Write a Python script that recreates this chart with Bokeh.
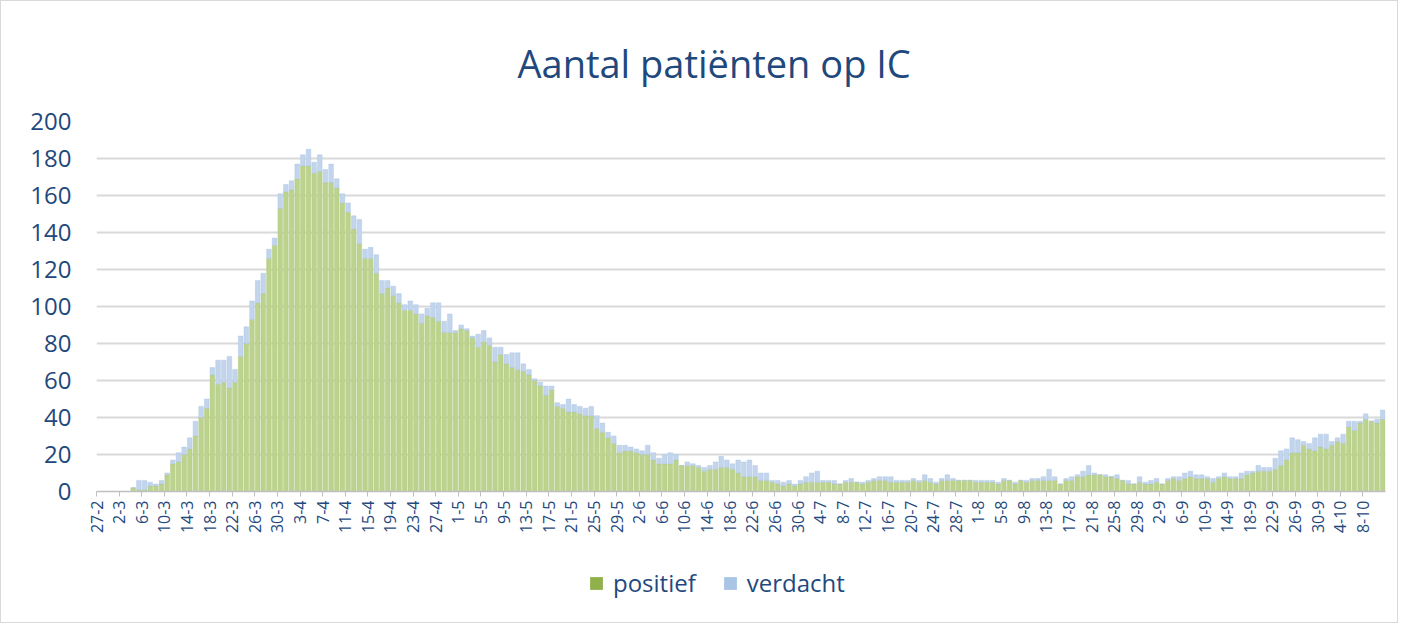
import math
from bokeh.plotting import figure
from bokeh.layouts import column
from bokeh.models import ColumnDataSource, Range1d, FixedTicker, Legend, LegendItem
from bokeh.embed import file_html
from bokeh.resources import INLINE

# Daily ICU occupancy, one value per day starting 27-2
positief = [0, 0, 0, 0, 0, 0, 2, 1, 1, 3, 3, 4, 9, 15, 16, 20, 23, 30, 40, 45,
            63, 58, 59, 56, 59, 73, 80, 93, 102, 107, 126, 133, 153, 162, 163, 169, 176, 176, 172, 173,
            167, 167, 164, 156, 151, 142, 134, 126, 126, 118, 107, 110, 106, 102, 98, 98, 96, 91, 95, 94,
            92, 86, 86, 86, 88, 87, 83, 78, 81, 79, 70, 74, 69, 67, 66, 65, 63, 60, 57, 52,
            55, 46, 45, 43, 43, 42, 41, 41, 34, 32, 29, 26, 21, 22, 22, 21, 20, 20, 17, 15,
            15, 15, 17, 14, 14, 14, 13, 11, 12, 12, 13, 13, 12, 10, 8, 8, 8, 6, 6, 5,
            4, 3, 4, 3, 4, 5, 5, 5, 5, 5, 4, 4, 5, 5, 5, 4, 5, 6, 6, 6,
            5, 5, 5, 5, 6, 5, 6, 5, 4, 6, 6, 6, 6, 6, 6, 5, 5, 5, 5, 4,
            6, 6, 4, 6, 5, 6, 6, 6, 6, 6, 4, 6, 6, 8, 8, 9, 9, 9, 8, 8,
            7, 6, 4, 4, 5, 4, 4, 5, 4, 6, 7, 6, 7, 8, 7, 7, 7, 5, 7, 8,
            7, 7, 7, 9, 10, 11, 11, 11, 12, 14, 17, 21, 21, 25, 23, 22, 24, 23, 25, 27,
            26, 35, 33, 37, 39, 38, 37, 39]

verdacht = [0, 0, 0, 0, 0, 0, 0, 5, 5, 2, 1, 2, 1, 2, 5, 4, 6, 8, 6, 5,
            4, 13, 12, 17, 7, 11, 9, 10, 12, 11, 5, 4, 8, 4, 5, 8, 6, 9, 6, 9,
            7, 10, 5, 5, 5, 7, 13, 5, 6, 10, 7, 4, 5, 5, 3, 5, 5, 5, 4, 8,
            10, 6, 10, 1, 2, 1, 1, 7, 6, 4, 8, 4, 5, 8, 9, 4, 3, 1, 2, 5,
            2, 2, 2, 7, 4, 4, 4, 5, 7, 5, 3, 4, 4, 3, 2, 2, 2, 5, 4, 3,
            5, 6, 3, 0, 2, 1, 1, 2, 2, 4, 6, 4, 3, 7, 8, 9, 6, 4, 4, 1,
            2, 2, 2, 1, 2, 3, 5, 6, 1, 1, 2, 0, 1, 2, 0, 1, 1, 1, 2, 2,
            3, 1, 1, 1, 1, 1, 3, 2, 1, 1, 3, 1, 0, 0, 0, 1, 1, 1, 1, 1,
            1, 0, 1, 0, 1, 1, 1, 2, 6, 2, 0, 1, 2, 1, 3, 5, 1, 0, 1, 0,
            2, 0, 2, 0, 3, 1, 2, 2, 0, 1, 1, 2, 3, 3, 2, 2, 1, 2, 1, 2,
            1, 1, 3, 2, 1, 3, 2, 2, 6, 8, 6, 8, 7, 2, 3, 7, 7, 8, 2, 2,
            5, 3, 5, 1, 3, 0, 2, 5]

# Every 4th day is labelled
tick_labels = ["27-2", "2-3", "6-3", "10-3", "14-3", "18-3", "22-3", "26-3", "30-3",
               "3-4", "7-4", "11-4", "15-4", "19-4", "23-4", "27-4",
               "1-5", "5-5", "9-5", "13-5", "17-5", "21-5", "25-5", "29-5",
               "2-6", "6-6", "10-6", "14-6", "18-6", "22-6", "26-6", "30-6",
               "4-7", "8-7", "12-7", "16-7", "20-7", "24-7", "28-7",
               "1-8", "5-8", "9-8", "13-8", "17-8", "21-8", "25-8", "29-8",
               "2-9", "6-9", "10-9", "14-9", "18-9", "22-9", "26-9", "30-9",
               "4-10", "8-10"]
label_step = 4
y_ticks = [0, 20, 40, 60, 80, 100, 120, 140, 160, 180, 200]
series_names = ["positief", "verdacht"]

TEXT = "#1F497D"
FONT = "Open Sans"
BAR_FILL = ["#bcd38f", "#c2d5ec"]
BAR_LINE = ["#a9c46f", "#a8c2e2"]
KEY_FILL = ["#8fb04b", "#a9c4e4"]

n = len(positief)
src = ColumnDataSource(dict(x=[i + 0.5 for i in range(n)], positief=positief, verdacht=verdacht))

p = figure(width=1396, height=560, output_backend="svg", toolbar_location=None,
           x_range=Range1d(0, n), y_range=Range1d(0, y_ticks[-1]),
           min_border_left=95, min_border_right=12, min_border_top=120, min_border_bottom=70,
           title="Aantal patiënten op IC")
p.outline_line_color = None

p.title.align = "left"
p.title.offset = 421
p.title.text_font = FONT
p.title.text_font_size = "38px"
p.title.text_font_style = "normal"
p.title.text_color = TEXT
p.title.standoff = 66

p.vbar_stack(series_names, x="x", width=0.82, source=src,
             fill_color=BAR_FILL, line_color=BAR_LINE, line_width=0.4)

p.xgrid.visible = False
p.ygrid.grid_line_color = "#d9d9d9"
p.ygrid.grid_line_width = 2

yax = p.yaxis[0]
yax.ticker = FixedTicker(ticks=y_ticks)
yax.axis_line_color = None
yax.major_tick_line_color = None
yax.minor_tick_line_color = None
yax.major_label_text_font = FONT
yax.major_label_text_font_size = "24px"
yax.major_label_text_color = TEXT
yax.major_label_standoff = 19

xax = p.xaxis[0]
xt = [i * label_step for i in range(len(tick_labels))]
xax.ticker = FixedTicker(ticks=xt)
xax.major_label_overrides = {t: lbl for t, lbl in zip(xt, tick_labels)}
xax.major_label_orientation = math.pi / 2
xax.axis_line_color = "#bfbfbf"
xax.axis_line_width = 1.5
xax.major_tick_line_color = "#bfbfbf"
xax.major_tick_out = 5
xax.major_tick_in = 0
xax.minor_tick_line_color = None
xax.major_label_text_font = FONT
xax.major_label_text_font_size = "16px"
xax.major_label_text_color = TEXT
xax.major_label_standoff = 4

# Legend strip below the chart (key renderers share the data but stay hidden)
leg = figure(width=1396, height=61, output_backend="svg", toolbar_location=None,
             min_border=0, x_range=Range1d(0, n), y_range=Range1d(0, y_ticks[-1]),
             x_axis_location=None, y_axis_location=None)
leg.grid.visible = False
leg.outline_line_color = None
key_r = leg.vbar_stack(series_names, x="x", width=0.82, source=src,
                       fill_color=KEY_FILL, line_color=None, visible=False)
legend = Legend(items=[LegendItem(label=nm, renderers=[r]) for nm, r in zip(series_names, key_r)],
                orientation="horizontal", location=(492, 23),
                label_text_font=FONT, label_text_font_size="24px", label_text_color=TEXT,
                glyph_width=16, glyph_height=16, spacing=26, label_standoff=9,
                border_line_color=None, background_fill_alpha=0, margin=0, padding=4)
leg.add_layout(legend)

layout = column(p, leg, spacing=0)
layout.styles = {"border": "1px solid #d9d9d9"}

open("out.html", "w").write(file_html(layout, INLINE))
